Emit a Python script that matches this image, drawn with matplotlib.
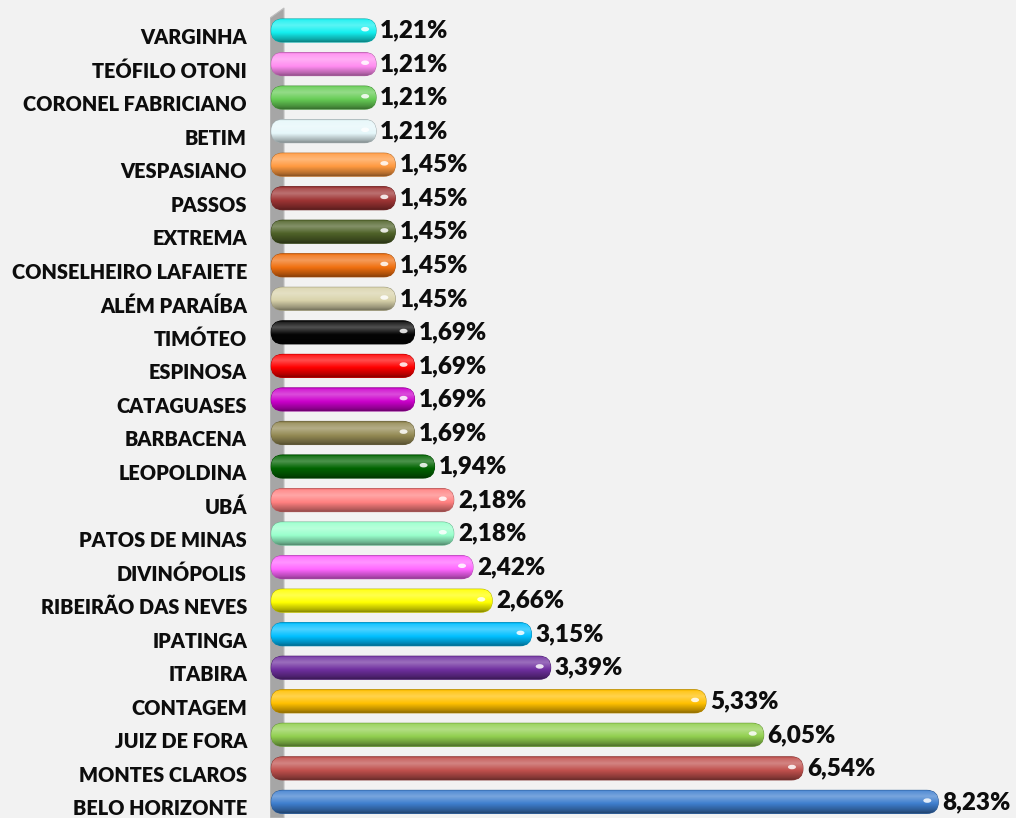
import numpy as np
import matplotlib
matplotlib.use("Agg")
import matplotlib.pyplot as plt
from matplotlib import colors as mcolors
from matplotlib.patches import FancyBboxPatch, Polygon, Ellipse

# dados, de cima para baixo
cidades = ["VARGINHA", "TEÓFILO OTONI", "CORONEL FABRICIANO", "BETIM", "VESPASIANO",
           "PASSOS", "EXTREMA", "CONSELHEIRO LAFAIETE", "ALÉM PARAÍBA", "TIMÓTEO",
           "ESPINOSA", "CATAGUASES", "BARBACENA", "LEOPOLDINA", "UBÁ",
           "PATOS DE MINAS", "DIVINÓPOLIS", "RIBEIRÃO DAS NEVES", "IPATINGA", "ITABIRA",
           "CONTAGEM", "JUIZ DE FORA", "MONTES CLAROS", "BELO HORIZONTE"]
valores = [1.21, 1.21, 1.21, 1.21, 1.45,
           1.45, 1.45, 1.45, 1.45, 1.69,
           1.69, 1.69, 1.69, 1.94, 2.18,
           2.18, 2.42, 2.66, 3.15, 3.39,
           5.33, 6.05, 6.54, 8.23]
cores = ["#14f0f0", "#ff8cf0", "#66cc55", "#e6f7fa", "#ff9a40",
         "#9e3434", "#4f6228", "#f07010", "#d9d3ab", "#050505",
         "#ff0000", "#cc00cc", "#948a54", "#006400", "#ff8080",
         "#99ffcc", "#ff66ff", "#ffff00", "#00bfff", "#7030a0",
         "#ffc000", "#92d050", "#c0504d", "#3f7fcf"]

W, H = 1016, 818
fundo = "#f2f2f2"
fonte = ["Lato", "DejaVu Sans"]


def sombreado(c, n=48):
    # perfil vertical: mais claro em cima, escuro em baixo (efeito cilindro)
    rgb = np.array(mcolors.to_rgb(c))
    t = np.linspace(0, 1, n)
    amt = np.interp(t, [0, 0.08, 0.3, 0.6, 0.9, 1.0],
                    [-0.2, 0.12, 0.3, 0.0, -0.3, -0.45])
    out = np.empty((n, 1, 3))
    for k, a in enumerate(amt):
        if a >= 0:
            out[k, 0] = rgb + (1 - rgb) * a
        else:
            out[k, 0] = rgb * (1 + a)
    return out


fig = plt.figure(figsize=(W / 100, H / 100), dpi=100)
fig.patch.set_facecolor(fundo)
ax_l = 270
ax = fig.add_axes([ax_l / W, 0, (W - ax_l) / W, 1])
ax.set_facecolor("none")

n = len(cidades)
xmin, xmax = -0.115, 9.2
ymin, ymax = n - 0.52, -0.91
ax.set_xlim(xmin, xmax)
ax.set_ylim(ymin, ymax)
ax.axis("off")

# parede do eixo (cinza, com topo inclinado)
wx = 14 / (W - ax_l)
parede = Polygon([(0, 0), (0, 1 - 18 / H), (wx, 1 - 8 / H), (wx, 0)],
                 closed=True, transform=ax.transAxes, facecolor="#a6a6a6",
                 edgecolor="#bfbfbf", lw=0.8, zorder=1)
ax.add_patch(parede)

ux = (xmax - xmin) / (W - ax_l)   # unidades x por pixel
uy = (ymin - ymax) / H            # unidades y por pixel
ma = uy / ux
h = 0.69
base = -0.1

for i, (v, c) in enumerate(zip(valores, cores)):
    escuro = tuple(np.array(mcolors.to_rgb(c)) * 0.7)
    barra = FancyBboxPatch((base, i - h / 2), v - base, h,
                           boxstyle="round,pad=0,rounding_size=%f" % (h / ma / 2),
                           mutation_aspect=ma, facecolor=c, edgecolor=escuro,
                           lw=0.7, zorder=3)
    ax.add_patch(barra)
    im = ax.imshow(sombreado(c), extent=(base, v, i + h / 2, i - h / 2),
                   aspect="auto", interpolation="bilinear", zorder=3.1)
    im.set_clip_path(barra)
    brilho = Ellipse((v - 11 * ux, i - 0.04), 8 * ux, 4.5 * uy, angle=0,
                     facecolor="white", edgecolor="none", alpha=0.85, zorder=3.2)
    ax.add_patch(brilho)

    rot = ("%.2f" % v).replace(".", ",") + "%"
    ax.annotate(rot, xy=(v, i), xytext=(4, 0), textcoords="offset pixels",
                ha="left", va="center", fontsize=17.5, fontweight="heavy",
                family=fonte, color="#0d0d0d", zorder=4)
    ax.annotate(cidades[i], xy=(0, i), xycoords=("axes fraction", "data"),
                xytext=(-23, -7), textcoords="offset pixels", ha="right",
                va="center", fontsize=14.3, fontweight="heavy", family=fonte,
                color="#0d0d0d", annotation_clip=False)

ax.set_xlim(xmin, xmax)
ax.set_ylim(ymin, ymax)

fig.savefig("out.png", dpi=100, facecolor=fig.get_facecolor())
